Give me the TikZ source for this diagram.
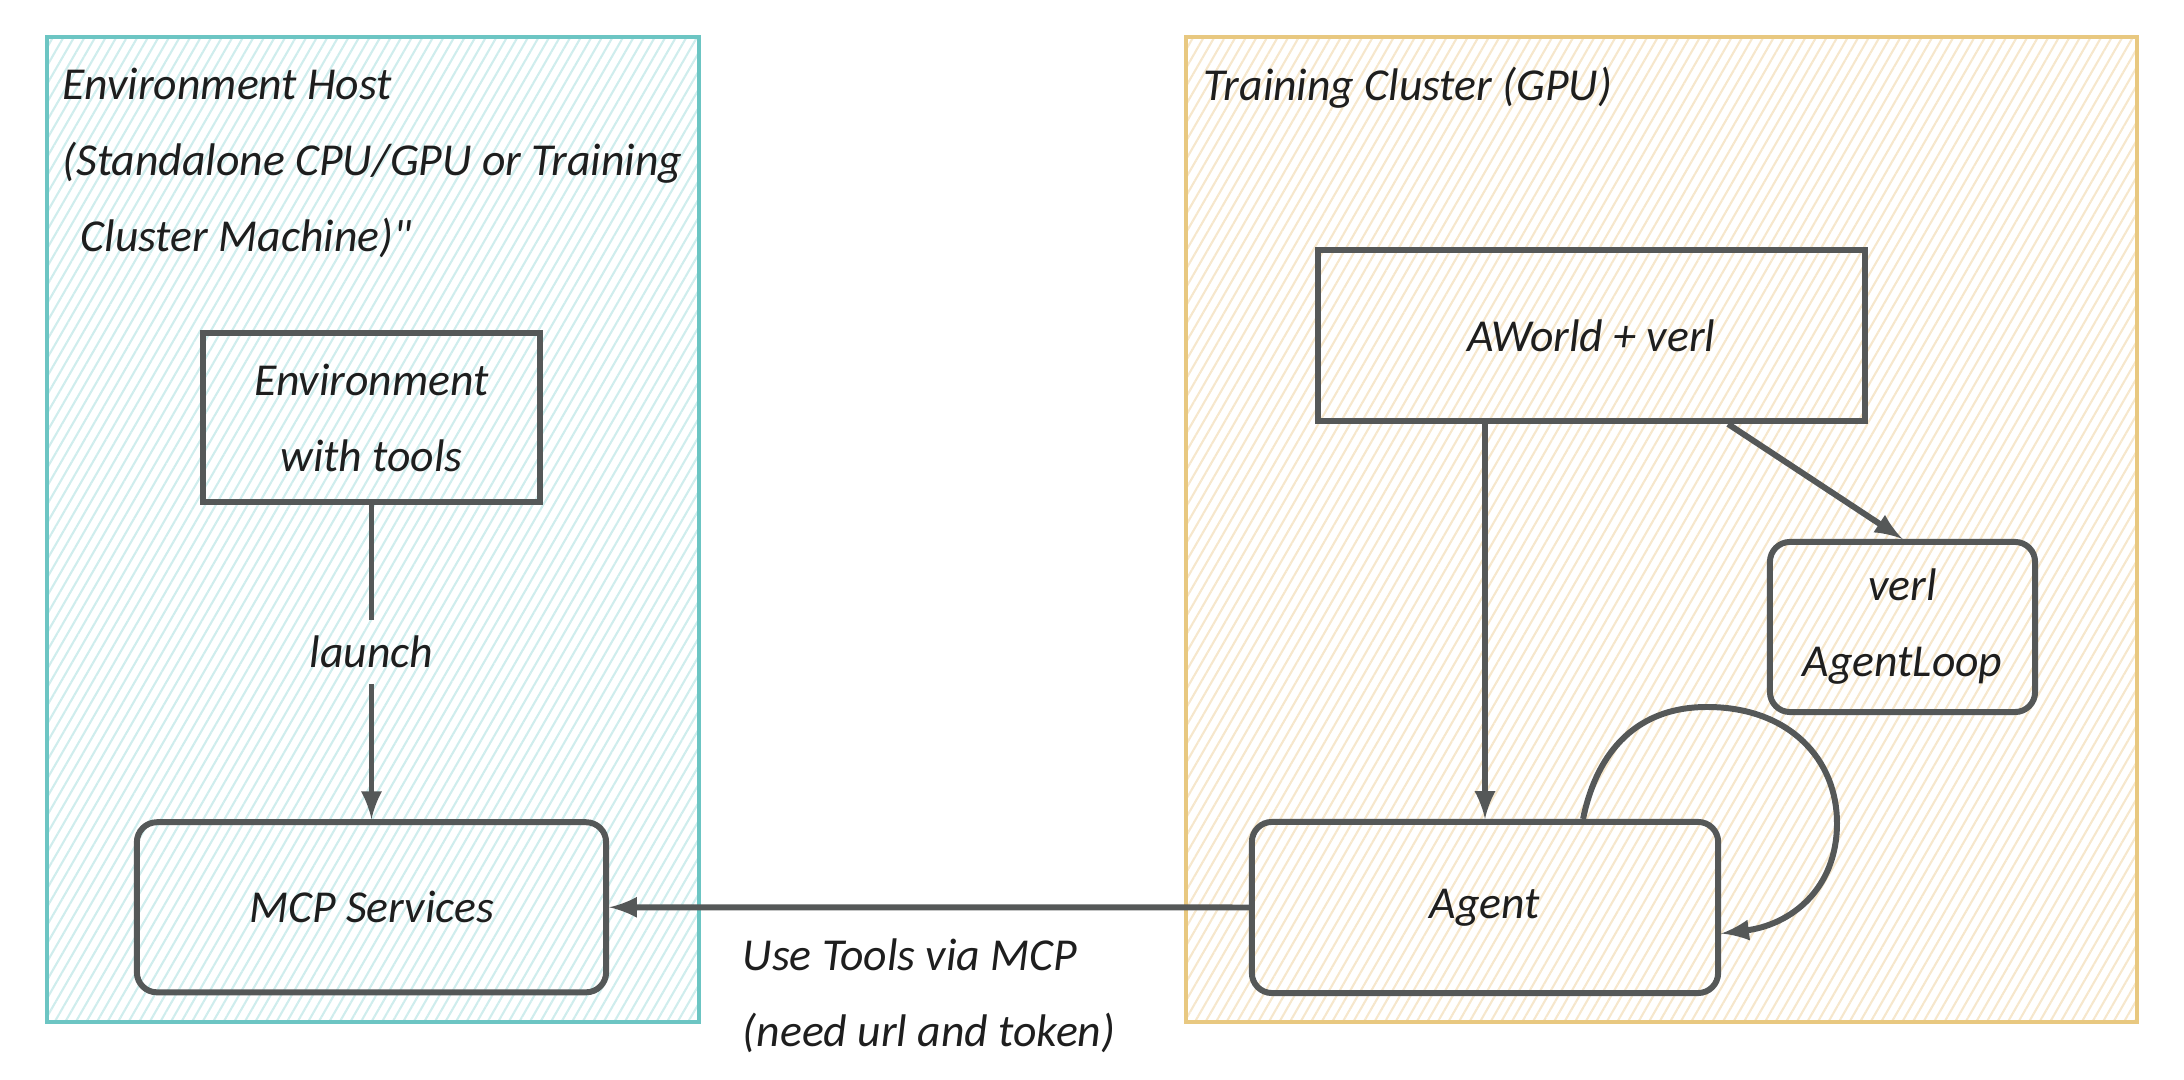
\documentclass[tikz,border=0pt]{standalone}
\usepackage{fontspec}
\setmainfont{Carlito}
\usetikzlibrary{positioning,patterns.meta}

\definecolor{ink}{HTML}{555858}
\definecolor{textc}{HTML}{1E1E1E}
\definecolor{hostline}{HTML}{6CC5C3}
\definecolor{hosthatch}{HTML}{CFEDED}
\definecolor{gpuline}{HTML}{E8C880}
\definecolor{gpuhatch}{HTML}{F6E7CC}

\begin{document}
\begin{tikzpicture}[x=0.01cm, y=-0.01cm, -latex, on grid,
font=\itshape\fontsize{13}{21.6}\selectfont,
link/.style ={draw=ink, line width=1.7pt},
zone/.style ={line width=0.9pt, pattern={Lines[angle=60,distance=2.6pt,line width=0.6pt]}},
box/.style ={draw=ink, line width=1.7pt, text=textc, inner sep=0pt, align=center},
rbox/.style ={box, rounded corners=0.2cm},
lbl/.style ={text=textc, inner sep=0.15cm}]
\useasboundingbox (0,0) rectangle (2184,1080);

% the two machines
\draw[zone, draw=hostline, pattern color=hosthatch] (47,37) rectangle (699,1022);
\draw[zone, draw=gpuline, pattern color=gpuhatch] (1186,37) rectangle (2137,1022);
\node[lbl, inner sep=0pt, anchor=west, align=left] (hosttitle) at (62,162.5)
  {Environment Host\\(Standalone CPU/GPU or Training\\\hspace*{0.18cm}Cluster Machine)\textquotedbl};
\node[lbl, inner sep=0pt, anchor=west] (gputitle) at (1203,88) {Training Cluster (GPU)};

% environment host
\node[box, minimum width=3.37cm, minimum height=1.69cm] (env) at (371.5,417.5) {Environment\\with tools};
\node[lbl] (launch) [below = 2.345cm of env] {launch};
\node[rbox, minimum width=4.69cm, minimum height=1.70cm] (mcp) [below = 4.895cm of env] {MCP Services};

% training cluster
\node[box, minimum width=5.47cm, minimum height=1.71cm] (aworld) at (1591.5,335.5) {AWorld + verl};
\node[rbox, minimum width=2.65cm, minimum height=1.70cm] (verl) at (1902.5,627) {verl\\AgentLoop};
\node[rbox, minimum width=4.66cm, minimum height=1.71cm] (agent) at (1485,907.5) {Agent};

\draw[link, -] (env) -- (launch);
\draw[link] (launch) -- (mcp);
\draw[link] (aworld.south -| agent.north) -- (agent.north);
\draw[link] ([xshift=1.365cm]aworld.south) -- (verl.north);
\draw[link] ([xshift=0.98cm]agent.north) .. controls (1595,760) and (1630,707) .. (1707,707)
  .. controls (1790,707) and (1837,760) .. (1837,823)
  .. controls (1837,890) and (1790,925) .. ([yshift=-0.26cm]agent.east);
\draw[link] (agent.west) -- (mcp.east)
  node[lbl, midway, yshift=-0.88cm, align=left] (mcplabel) {Use Tools via MCP\\(need url and token)};
\end{tikzpicture}
\end{document}
